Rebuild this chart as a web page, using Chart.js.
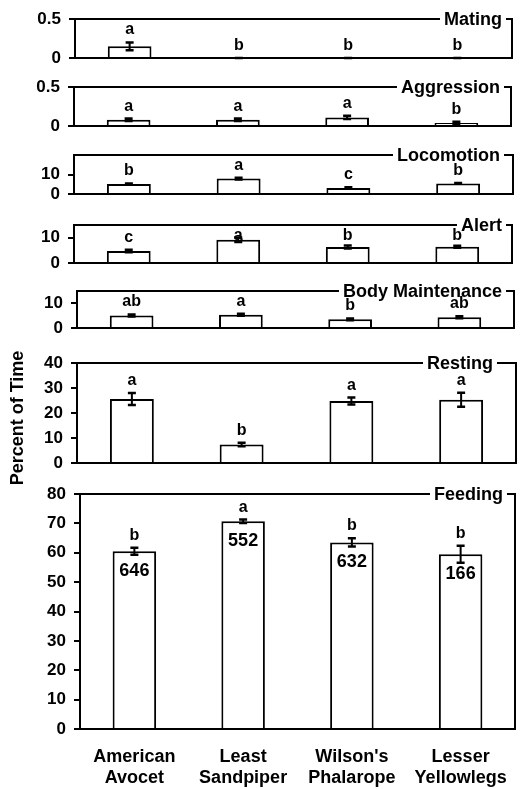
<!DOCTYPE html>
<html>
<head>
<meta charset="utf-8">
<script src="https://cdn.jsdelivr.net/npm/chart.js@4.4.0/dist/chart.umd.min.js"></script>
<style>
  body { margin: 0; background: #fff; width: 526px; height: 789px; position: relative; overflow: hidden; }
  canvas { position: absolute; left: 0; }
</style>
</head>
<body>
<script>
// bird species (x categories)
const birds = [['American', 'Avocet'], ['Least', 'Sandpiper'], ["Wilson's", 'Phalarope'], ['Lesser', 'Yellowlegs']];

// percent of time per behaviour, with error and significance letters
const mating = [0.15, 0, 0, 0];
const matingErr = [0.05, 0, 0, 0];
const matingLetters = ['a', 'b', 'b', 'b'];

const aggression = [0.08, 0.08, 0.11, 0.04];
const aggressionErr = [0.015, 0.015, 0.02, 0.015];
const aggressionLetters = ['a', 'a', 'a', 'b'];

const locomotion = [5.1, 7.9, 3.1, 5.4];
const locomotionErr = [0.3, 0.4, 0.3, 0.2];
const locomotionLetters = ['b', 'a', 'c', 'b'];

const alert_ = [4.7, 9.2, 6.3, 6.4];
const alertErr = [0.5, 0.9, 0.6, 0.4];
const alertLetters = ['c', 'a', 'b', 'b'];

const bodyMaint = [5.1, 5.4, 3.5, 4.4];
const bodyMaintErr = [0.4, 0.4, 0.4, 0.4];
const bodyMaintLetters = ['ab', 'a', 'b', 'ab'];

const resting = [25.6, 7.4, 24.8, 25.3];
const restingErr = [2.4, 0.7, 1.4, 2.8];
const restingLetters = ['a', 'b', 'a', 'a'];

const feeding = [60.5, 70.7, 63.5, 59.5];
const feedingErr = [1.2, 0.6, 1.4, 2.9];
const feedingLetters = ['b', 'a', 'b', 'b'];
const feedingN = [646, 552, 632, 166];

// y axis ranges and tick values
const yMax = [0.5, 0.5, 20, 15, 15, 40, 80];
const yTicks = [[0, 0.5], [0, 0.5], [0, 10], [0, 10], [0, 10], [0, 10, 20, 30, 40], [0, 10, 20, 30, 40, 50, 60, 70, 80]];

const panels = [
  { title: 'Mating', values: mating, errors: matingErr, letters: matingLetters },
  { title: 'Aggression', values: aggression, errors: aggressionErr, letters: aggressionLetters },
  { title: 'Locomotion', values: locomotion, errors: locomotionErr, letters: locomotionLetters },
  { title: 'Alert', values: alert_, errors: alertErr, letters: alertLetters },
  { title: 'Body Maintenance', values: bodyMaint, errors: bodyMaintErr, letters: bodyMaintLetters },
  { title: 'Resting', values: resting, errors: restingErr, letters: restingLetters },
  { title: 'Feeding', values: feeding, errors: feedingErr, letters: feedingLetters, counts: feedingN }
];

// page layout of each plot box (pixels)
const boxTop = [19, 87, 155, 225, 291, 363, 494];
const boxBottom = [58, 126, 194, 263, 328, 463, 729];
const boxLeft = [75, 74, 74, 74, 77, 77, 80];
const boxRight = [512, 511, 513, 512, 514, 516, 515];
const titleEnd = [502, 500, 500, 502, 502, 493, 503];
const yTitle = 'Percent of Time';

const FONT = '"Liberation Sans", Arial, sans-serif';
Chart.defaults.font.family = FONT;
Chart.defaults.font.weight = 'bold';
Chart.defaults.color = '#000';

// error bars, letters, counts, box frame and title
const panelPlugin = {
  id: 'panel',
  afterDatasetsDraw(chart, args, opts) {
    const { ctx, chartArea: a } = chart;
    const y = chart.scales.y;
    const p = opts.panel;
    const meta = chart.getDatasetMeta(0);
    ctx.save();
    ctx.strokeStyle = '#000';
    ctx.fillStyle = '#000';
    ctx.lineWidth = 2;

    // frame: top and right sides
    ctx.beginPath();
    ctx.moveTo(a.left, a.top);
    ctx.lineTo(a.right, a.top);
    ctx.lineTo(a.right, a.bottom);
    ctx.stroke();

    // panel title breaking the top line
    ctx.font = 'bold 18px ' + FONT;
    const w = ctx.measureText(p.title).width;
    ctx.fillStyle = '#fff';
    ctx.fillRect(opts.titleX - w - 4, a.top - 3, w + 8, 6);
    ctx.fillStyle = '#000';
    ctx.textAlign = 'right';
    ctx.textBaseline = 'alphabetic';
    ctx.fillText(p.title, opts.titleX, a.top + 6);

    meta.data.forEach((bar, k) => {
      const v = p.values[k], e = p.errors[k];
      const hi = y.getPixelForValue(v + e);
      const lo = y.getPixelForValue(Math.max(v - e, 0));
      ctx.lineWidth = 2;
      ctx.beginPath();
      ctx.moveTo(bar.x, hi); ctx.lineTo(bar.x, lo);
      ctx.stroke();
      ctx.lineWidth = 2.5;
      ctx.beginPath();
      ctx.moveTo(bar.x - 4, hi); ctx.lineTo(bar.x + 4, hi);
      ctx.moveTo(bar.x - 4, lo); ctx.lineTo(bar.x + 4, lo);
      ctx.stroke();

      ctx.font = 'bold 16px ' + FONT;
      ctx.textAlign = 'center';
      ctx.textBaseline = 'alphabetic';
      ctx.fillText(p.letters[k], bar.x, Math.max(hi - 8, a.top + 15));

      if (p.counts) {
        ctx.font = 'bold 18px ' + FONT;
        ctx.textBaseline = 'middle';
        ctx.fillText(String(p.counts[k]), bar.x, y.getPixelForValue(v) + 20);
      }
    });

    if (opts.yTitle) {
      ctx.translate(18, opts.yTitleY);
      ctx.rotate(-Math.PI / 2);
      ctx.textAlign = 'center';
      ctx.textBaseline = 'middle';
      ctx.font = 'bold 18px ' + FONT;
      ctx.fillText(opts.yTitle, 0, 0);
    }
    ctx.restore();
  }
};

function makePanel(i) {
  const p = panels[i];
  const last = i === panels.length - 1;
  const padTop = 14;
  const padBottom = last ? 789 - boxBottom[i] : (i === 5 ? 30 : 10);
  const canvasTop = boxTop[i] - padTop;

  const cv = document.createElement('canvas');
  cv.width = 526;
  cv.height = boxBottom[i] - boxTop[i] + padTop + padBottom;
  cv.style.top = canvasTop + 'px';
  document.body.appendChild(cv);

  new Chart(cv, {
    type: 'bar',
    data: {
      labels: birds,
      datasets: [{
        data: p.values,
        backgroundColor: '#fff',
        borderColor: '#000',
        borderWidth: 2,
        barPercentage: 0.4,
        categoryPercentage: 1
      }]
    },
    options: {
      responsive: false,
      animation: false,
      devicePixelRatio: 1,
      layout: { padding: { top: padTop, right: 526 - boxRight[i], left: 0, bottom: 0 } },
      plugins: {
        legend: { display: false },
        tooltip: { enabled: false },
        panel: {
          panel: p,
          titleX: titleEnd[i],
          yTitle: i === 5 ? yTitle : null,
          yTitleY: 418 - canvasTop
        }
      },
      scales: {
        x: {
          grid: { display: false, drawTicks: false },
          border: { display: true, color: '#000', width: 2 },
          ticks: {
            display: last,
            padding: 17,
            font: { size: 18, weight: 'bold' },
            maxRotation: 0,
            autoSkip: false
          },
          afterFit: s => { s.height = padBottom; s.paddingLeft = 0; s.paddingRight = 0; }
        },
        y: {
          min: 0,
          max: yMax[i],
          afterBuildTicks: s => { s.ticks = yTicks[i].map(v => ({ value: v })); },
          grid: { drawOnChartArea: false, drawTicks: true, tickLength: 6, color: '#000', lineWidth: 2 },
          border: { display: true, color: '#000', width: 2 },
          ticks: {
            padding: 8,
            font: { size: 17, weight: 'bold' },
            callback: v => String(v)
          },
          afterFit: s => { s.width = boxLeft[i]; s.paddingTop = 0; s.paddingBottom = 0; }
        }
      }
    },
    plugins: [panelPlugin]
  });
}

panels.forEach((p, i) => makePanel(i));
</script>
</body>
</html>
